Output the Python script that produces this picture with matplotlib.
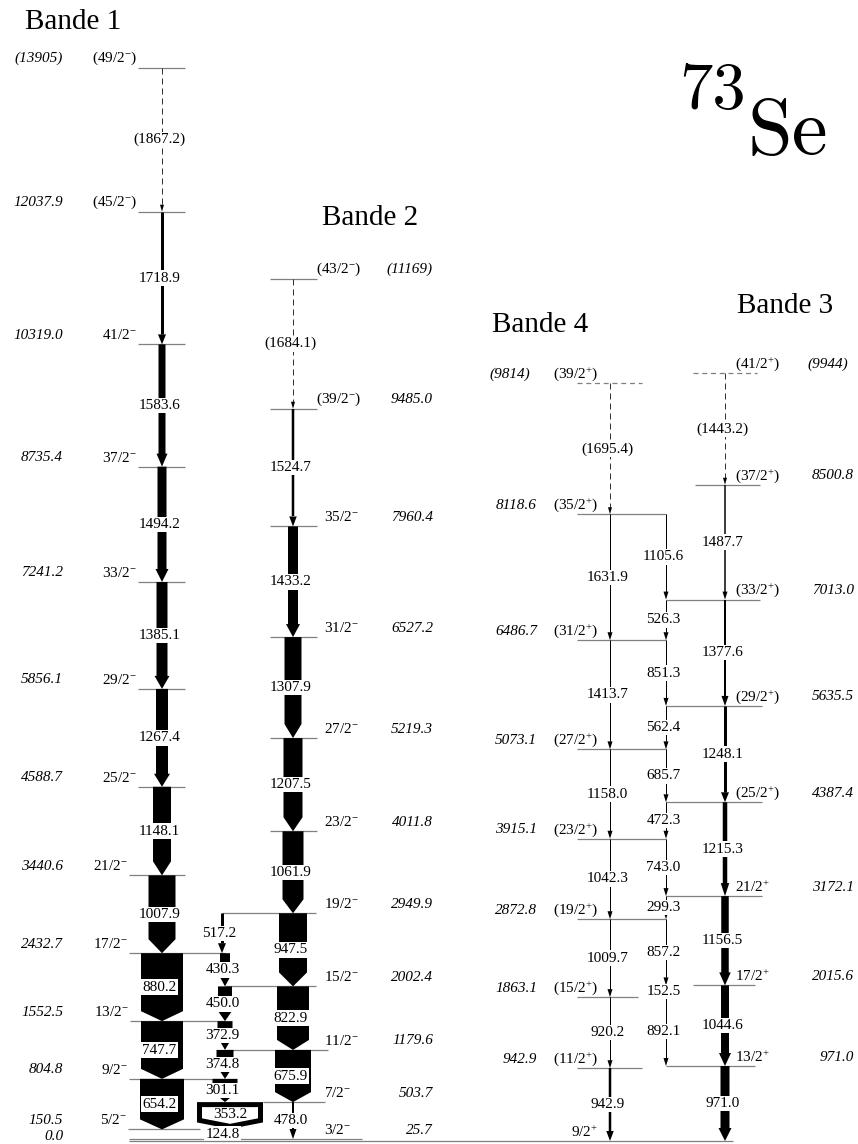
import re
import matplotlib
matplotlib.use("Agg")
import matplotlib.pyplot as plt
from matplotlib.patches import Polygon

# ------------------------------------------------------------------ data
# Bande 1 (levels, bottom to top)
b1_E = [150.5, 804.8, 1552.5, 2432.7, 3440.6, 4588.7, 5856.1, 7241.2, 8735.4, 10319.0, 12037.9, 13905.0]
b1_Elab = ["150.5", "804.8", "1552.5", "2432.7", "3440.6", "4588.7", "5856.1", "7241.2", "8735.4",
           "10319.0", "12037.9", "(13905)"]
b1_spin = ["5/2-", "9/2-", "13/2-", "17/2-", "21/2-", "25/2-", "29/2-", "33/2-", "37/2-", "41/2-",
           "(45/2-)", "(49/2-)"]
b1_gamma = ["654.2", "747.7", "880.2", "1007.9", "1148.1", "1267.4", "1385.1", "1494.2", "1583.6",
            "1718.9", "(1867.2)"]
b1_int = [44, 42, 42, 27, 18, 12, 11, 9, 7, 3, 1]

# Bande 2
b2_E = [25.7, 503.7, 1179.6, 2002.4, 2949.9, 4011.8, 5219.3, 6527.2, 7960.4, 9485.0, 11169.0]
b2_Elab = ["25.7", "503.7", "1179.6", "2002.4", "2949.9", "4011.8", "5219.3", "6527.2", "7960.4",
           "9485.0", "(11169)"]
b2_spin = ["3/2-", "7/2-", "11/2-", "15/2-", "19/2-", "23/2-", "27/2-", "31/2-", "35/2-",
           "(39/2-)", "(43/2-)"]
b2_gamma = ["478.0", "675.9", "822.9", "947.5", "1061.9", "1207.5", "1307.9", "1433.2", "1524.7",
            "(1684.1)"]
b2_int = [2, 36, 32, 28, 21, 19, 17, 10, 2.5, 1]

# inter-band cascade between Bande 1 and Bande 2
ib_Ei = [2949.9, 2432.7, 2002.4, 1552.5, 1179.6, 804.8, 503.7, 150.5]
ib_Ef = [2432.7, 2002.4, 1552.5, 1179.6, 804.8, 503.7, 150.5, 25.7]
ib_gamma = ["517.2", "430.3", "450.0", "372.9", "374.8", "301.1", "353.2", "124.8"]
ib_int = [3, 10, 14, 15, 17, 25, 66, 0]

# Bande 4
b4_E = [0.0, 942.9, 1863.1, 2872.8, 3915.1, 5073.1, 6486.7, 8118.6, 9814.0]
b4_Elab = ["0.0", "942.9", "1863.1", "2872.8", "3915.1", "5073.1", "6486.7", "8118.6", "(9814)"]
b4_spin = ["9/2+", "(11/2+)", "(15/2+)", "(19/2+)", "(23/2+)", "(27/2+)", "(31/2+)", "(35/2+)",
           "(39/2+)"]
b4_gamma = ["942.9", "920.2", "1009.7", "1042.3", "1158.0", "1413.7", "1631.9", "(1695.4)"]
b4_int = [2.5, 1, 1, 1, 1, 1, 1, 1]

# Bande 3
b3_E = [0.0, 971.0, 2015.6, 3172.1, 4387.4, 5635.5, 7013.0, 8500.8, 9944.0]
b3_Elab = [None, "971.0", "2015.6", "3172.1", "4387.4", "5635.5", "7013.0", "8500.8", "(9944)"]
b3_spin = [None, "13/2+", "17/2+", "21/2+", "(25/2+)", "(29/2+)", "(33/2+)", "(37/2+)", "(41/2+)"]
b3_gamma = ["971.0", "1044.6", "1156.5", "1215.3", "1248.1", "1377.6", "1487.7", "(1443.2)"]
b3_int = [9, 8, 7.5, 4.5, 3, 2, 1.5, 1]

# links between Bande 4 and Bande 3
sc_Ei = [8118.6, 7013.0, 6486.7, 5635.5, 5073.1, 4387.4, 3915.1, 3172.1, 2872.8, 2015.6, 1863.1]
sc_Ef = [7013.0, 6486.7, 5635.5, 5073.1, 4387.4, 3915.1, 3172.1, 2872.8, 2015.6, 1863.1, 971.0]
sc_gamma = ["1105.6", "526.3", "851.3", "562.4", "685.7", "472.3", "743.0", "299.3", "857.2",
            "152.5", "892.1"]
sc_int = [1] * 11

# ------------------------------------------------------------------ layout
plt.rcParams["font.family"] = ["Liberation Serif", "DejaVu Serif"]
plt.rcParams["mathtext.fontset"] = "custom"
plt.rcParams["mathtext.rm"] = "Liberation Serif"
plt.rcParams["mathtext.it"] = "Liberation Serif:italic"

W, H = 858, 1144
K = 0.0772          # pixels per keV
Y0 = 1141           # pixel row of the ground state
PX = 1.0 / K        # keV per pixel
FS = 11

fig = plt.figure(figsize=(W / 100, H / 100), dpi=100)
ax = fig.add_axes([0, 0, 1, 1])
ax.set_xlim(0, W)
ax.set_ylim(-(H - Y0) / K, Y0 / K)
ax.axis("off")

X1, X2, XIB, X4, XSC, X3 = 162, 293, 225, 610, 666, 725
LCOL = "#808080"

b1_lines = [(128, 200), (129, 225), (130, 225), (129, 225), (129, 185)] + [(138, 185)] * 7
b2_lines = [(129, 362), (263, 325), (225, 328), (225, 316), (222, 316)] + [(270, 317)] * 6
b4_lines = [None, (577, 642), (577, 638)] + [(577, 666)] * 5 + [(577, 642)]
b3_lines = [None, (666, 755), (693, 755), (666, 762), (666, 762), (666, 762), (666, 760),
            (695, 760), (693, 757)]
dashed_levels = {9814.0, 9944.0}


def py(ypix):
    return (Y0 - ypix) / K


def spin_tex(s):
    s = re.sub(r"([+-])", r"^{\1}", s)
    return r"$\mathregular{" + s + "}$"


def level(E, x0, x1, dashed=False, z=1):
    ax.plot([x0, x1], [E, E], color=LCOL, lw=0.9, zorder=z,
            ls=(0, (4, 3)) if dashed else "-", solid_capstyle="butt")


def gamma(x, Ei, Ef, w, label, lx=None):
    dashed = label.startswith("(")
    length = (Ei - Ef) * K
    if dashed:
        hw, hl = 4, 7
    elif w <= 1.5:
        hw, hl = 5, 8
    elif w <= 4:
        hw, hl = w + 5, 10
    elif w < 15:
        hw, hl = w + 4, 13
    elif w < 30:
        hw, hl = w, 14
    else:
        hw, hl = w, 10
    hl = min(hl, 0.45 * length)
    Eh = Ef + hl * PX
    if dashed or w <= 4:
        ax.plot([x, x], [Ei, Eh], color="#333333" if dashed else "black", lw=w * 0.72,
                ls=(0, (6, 4)) if dashed else "-", solid_capstyle="butt", zorder=2)
        pts = [(x - hw / 2, Eh), (x + hw / 2, Eh), (x, Ef)]
    else:
        pts = [(x - w / 2, Ei), (x + w / 2, Ei), (x + w / 2, Eh), (x + hw / 2, Eh), (x, Ef),
               (x - hw / 2, Eh), (x - w / 2, Eh)]
    ax.add_patch(Polygon(pts, closed=True, fc="black", ec="none", zorder=2))
    gamma_label(x if lx is None else lx, (Ei + Ef) / 2, label)


def gamma_label(x, E, label):
    ax.text(x - 2.5, E, label, ha="center", va="center", fontsize=FS, zorder=5,
            bbox=dict(boxstyle="square,pad=0.08", fc="white", ec="none"))


OFF = 9 * PX  # label height above level line

# ---- Bande 1
for E, lab, sp, (x0, x1) in zip(b1_E, b1_Elab, b1_spin, b1_lines):
    level(E, x0, x1)
    ax.text(63, E + OFF, lab, ha="right", va="center", fontsize=FS, style="italic")
    ax.text(x0 - 1, E + OFF, spin_tex(sp), ha="right", va="center", fontsize=FS)
for i, (g, w) in enumerate(zip(b1_gamma, b1_int)):
    gamma(X1, b1_E[i + 1], b1_E[i], w, g)

# ---- Bande 2
for E, lab, sp, (x0, x1) in zip(b2_E, b2_Elab, b2_spin, b2_lines):
    level(E, x0, x1)
    ax.text(433, E + OFF, lab, ha="right", va="center", fontsize=FS, style="italic")
    ax.text(316 if sp.startswith("(") else 324, E + OFF, spin_tex(sp), ha="left", va="center",
            fontsize=FS)
for i in range(len(b2_gamma)):
    gamma(X2, b2_E[i + 1], b2_E[i], b2_int[i], b2_gamma[i])

# ---- inter-band cascade
for Ei, Ef, g, w in zip(ib_Ei, ib_Ef, ib_gamma, ib_int):
    if w == 0:
        gamma_label(XIB, (Ei + Ef) / 2, g)
    elif w > 40:
        xh = XIB + 5
        half = w / 2 - 2.5
        pts = [(xh - half, Ei - 2.5 * PX), (xh + half, Ei - 2.5 * PX), (xh + half, Ef + 9 * PX),
               (xh, Ef + 3 * PX), (xh - half, Ef + 9 * PX)]
        ax.add_patch(Polygon(pts, closed=True, fc="white", ec="black", lw=5 * 0.72,
                             joinstyle="miter", zorder=2))
        ax.text(xh, (Ei + Ef) / 2 + 1 * PX, g, ha="center", va="center", fontsize=FS, zorder=5)
    elif Ei == 2949.9:
        gamma(XIB - 3, Ei, Ef, w, g)
    else:
        gamma(XIB, Ei, Ef, w, g)

# ---- Bande 4
for E, lab, sp, ln in zip(b4_E, b4_Elab, b4_spin, b4_lines):
    if ln is not None:
        level(E, ln[0], ln[1], dashed=E in dashed_levels)
        ax.text(537 if not lab.startswith("(") else 530, E + OFF, lab, ha="right", va="center",
                fontsize=FS, style="italic")
    ax.text(598, E + OFF, spin_tex(sp), ha="right", va="center", fontsize=FS)
for i, (g, w) in enumerate(zip(b4_gamma, b4_int)):
    gamma(X4, b4_E[i + 1], b4_E[i], w, g)

# ground state line and its energy
level(0.0, 129, 733, z=6)
ax.text(64, 0.0 + 4 * PX, b4_Elab[0], ha="right", va="center", fontsize=FS, style="italic")

# ---- Bande 3
for E, lab, sp, ln in zip(b3_E, b3_Elab, b3_spin, b3_lines):
    if ln is None:
        continue
    level(E, ln[0], ln[1], dashed=E in dashed_levels)
    ax.text(854 if not lab.startswith("(") else 848, E + OFF, lab, ha="right", va="center",
            fontsize=FS, style="italic")
    ax.text(735, E + OFF, spin_tex(sp), ha="left", va="center", fontsize=FS)
for i, (g, w) in enumerate(zip(b3_gamma, b3_int)):
    gamma(X3, b3_E[i + 1], b3_E[i], w, g)

# ---- links Bande 4 <-> Bande 3
for Ei, Ef, g, w in zip(sc_Ei, sc_Ef, sc_gamma, sc_int):
    gamma(XSC, Ei, Ef, w, g)

# ---- titles
ax.text(25, py(22), "Bande 1", fontsize=21, ha="left", va="center")
ax.text(322, py(218), "Bande 2", fontsize=21, ha="left", va="center")
ax.text(492, py(325), "Bande 4", fontsize=21, ha="left", va="center")
ax.text(737, py(306), "Bande 3", fontsize=21, ha="left", va="center")
ax.text(746, py(92), "73", fontfamily="cmr10", fontsize=48, ha="right", va="center")
ax.text(747, py(134), "Se", fontfamily="cmr10", fontsize=58, ha="left", va="center")

fig.savefig("out.png", dpi=100)
